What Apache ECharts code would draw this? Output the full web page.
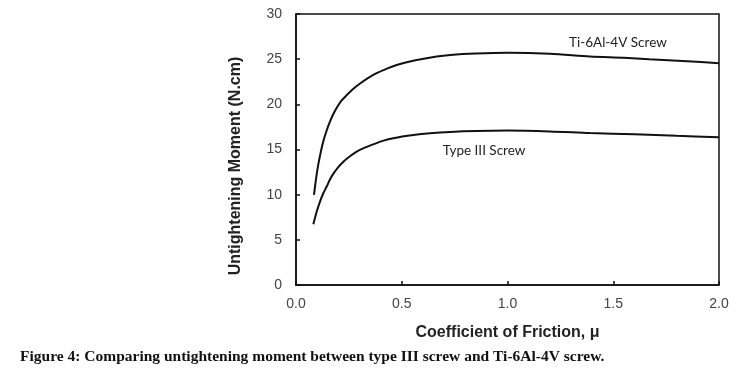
<!DOCTYPE html>
<html><head><meta charset="utf-8">
<script src="https://cdn.jsdelivr.net/npm/echarts@6/dist/echarts.min.js"></script>
<style>html,body{margin:0;padding:0;background:#fff}#c{width:755px;height:377px}</style>
</head><body><div id="c"></div>
<script>
var muTi = [0.085,0.095,0.105,0.117,0.129,0.145,0.161,0.176,0.192,0.215,0.239,0.27,0.303,0.34,0.381,0.43,0.476,0.571,0.665,0.73,0.85,1.0,1.2,1.39,1.55,1.67,1.85,2.0];
var ti   = [9.97,11.8,13.3,14.7,15.9,17.1,18.1,18.9,19.6,20.4,21.0,21.7,22.3,22.9,23.45,23.95,24.36,24.9,25.3,25.47,25.62,25.7,25.6,25.3,25.15,25.0,24.78,24.55];
var muT3 = [0.082,0.097,0.113,0.128,0.145,0.16,0.176,0.2,0.224,0.255,0.287,0.325,0.366,0.41,0.46,0.555,0.634,0.73,0.85,1.0,1.2,1.39,1.6,1.8,2.0];
var t3   = [6.72,8.05,9.2,10.1,10.9,11.65,12.3,13.05,13.65,14.25,14.76,15.2,15.58,15.95,16.25,16.6,16.8,16.95,17.05,17.09,17.0,16.82,16.68,16.52,16.36];
var xLabel = 'Coefficient of Friction, μ';
var yLabel = 'Untightening Moment (N.cm)';
var caption = 'Figure 4: Comparing untightening moment between type III screw and Ti-6Al-4V screw.';
var tiName = 'Ti-6Al-4V Screw', t3Name = 'Type III Screw';
var tiLabelAt = [1.522, 26.8], t3LabelAt = [0.889, 14.84];

function pairs(x,y){return x.map(function(v,i){return [v,y[i]];});}
var chart = echarts.init(document.getElementById('c'));
var lineStyle = {color:'#111',width:2};
var lblStyle = {show:true,position:'inside',color:'#222',fontFamily:'Lato',fontSize:13.5};
function mp(coord,text){
  return {symbol:'circle',symbolSize:1,itemStyle:{color:'rgba(0,0,0,0)'},silent:true,
    data:[{coord:coord,label:Object.assign({formatter:text},lblStyle)}]};
}
chart.setOption({
  animation:false,
  grid:{left:296,right:36,top:14,bottom:92,show:true,borderColor:'#111',borderWidth:1.5,backgroundColor:'transparent'},
  xAxis:{type:'value',min:0,max:2,interval:0.5,
    axisLine:{show:true,lineStyle:{color:'#111',width:1.5}},
    axisTick:{inside:true,length:4,lineStyle:{color:'#111',width:1.5}},
    splitLine:{show:false},
    axisLabel:{margin:12,color:'#444',fontFamily:'Liberation Sans',fontSize:14,formatter:function(v){return v.toFixed(1);}},
    name:xLabel,nameLocation:'middle',nameGap:40,
    nameTextStyle:{color:'#222',fontFamily:'Liberation Sans',fontWeight:'bold',fontSize:16}},
  yAxis:{type:'value',min:0,max:30,interval:5,
    axisLine:{show:true,lineStyle:{color:'#111',width:1.5}},
    axisTick:{show:true,inside:true,length:4,lineStyle:{color:'#111',width:1.5}},
    splitLine:{show:false},
    axisLabel:{margin:14,color:'#444',fontFamily:'Liberation Sans',fontSize:14}},
  series:[
    {type:'line',data:pairs(muTi,ti),smooth:0.3,showSymbol:false,lineStyle:lineStyle,markPoint:mp(tiLabelAt,tiName)},
    {type:'line',data:pairs(muT3,t3),smooth:0.3,showSymbol:false,lineStyle:lineStyle,markPoint:mp(t3LabelAt,t3Name)}
  ],
  graphic:[
    {type:'text',x:236,y:166,rotation:Math.PI/2,style:{text:yLabel,fill:'#222',font:'bold 16px "Liberation Sans"',align:'center',verticalAlign:'middle'}},
    {type:'text',x:20,y:357,style:{text:caption,fill:'#111',font:'bold 15.5px "Liberation Serif"',verticalAlign:'middle'}}
  ]
});
</script></body></html>
